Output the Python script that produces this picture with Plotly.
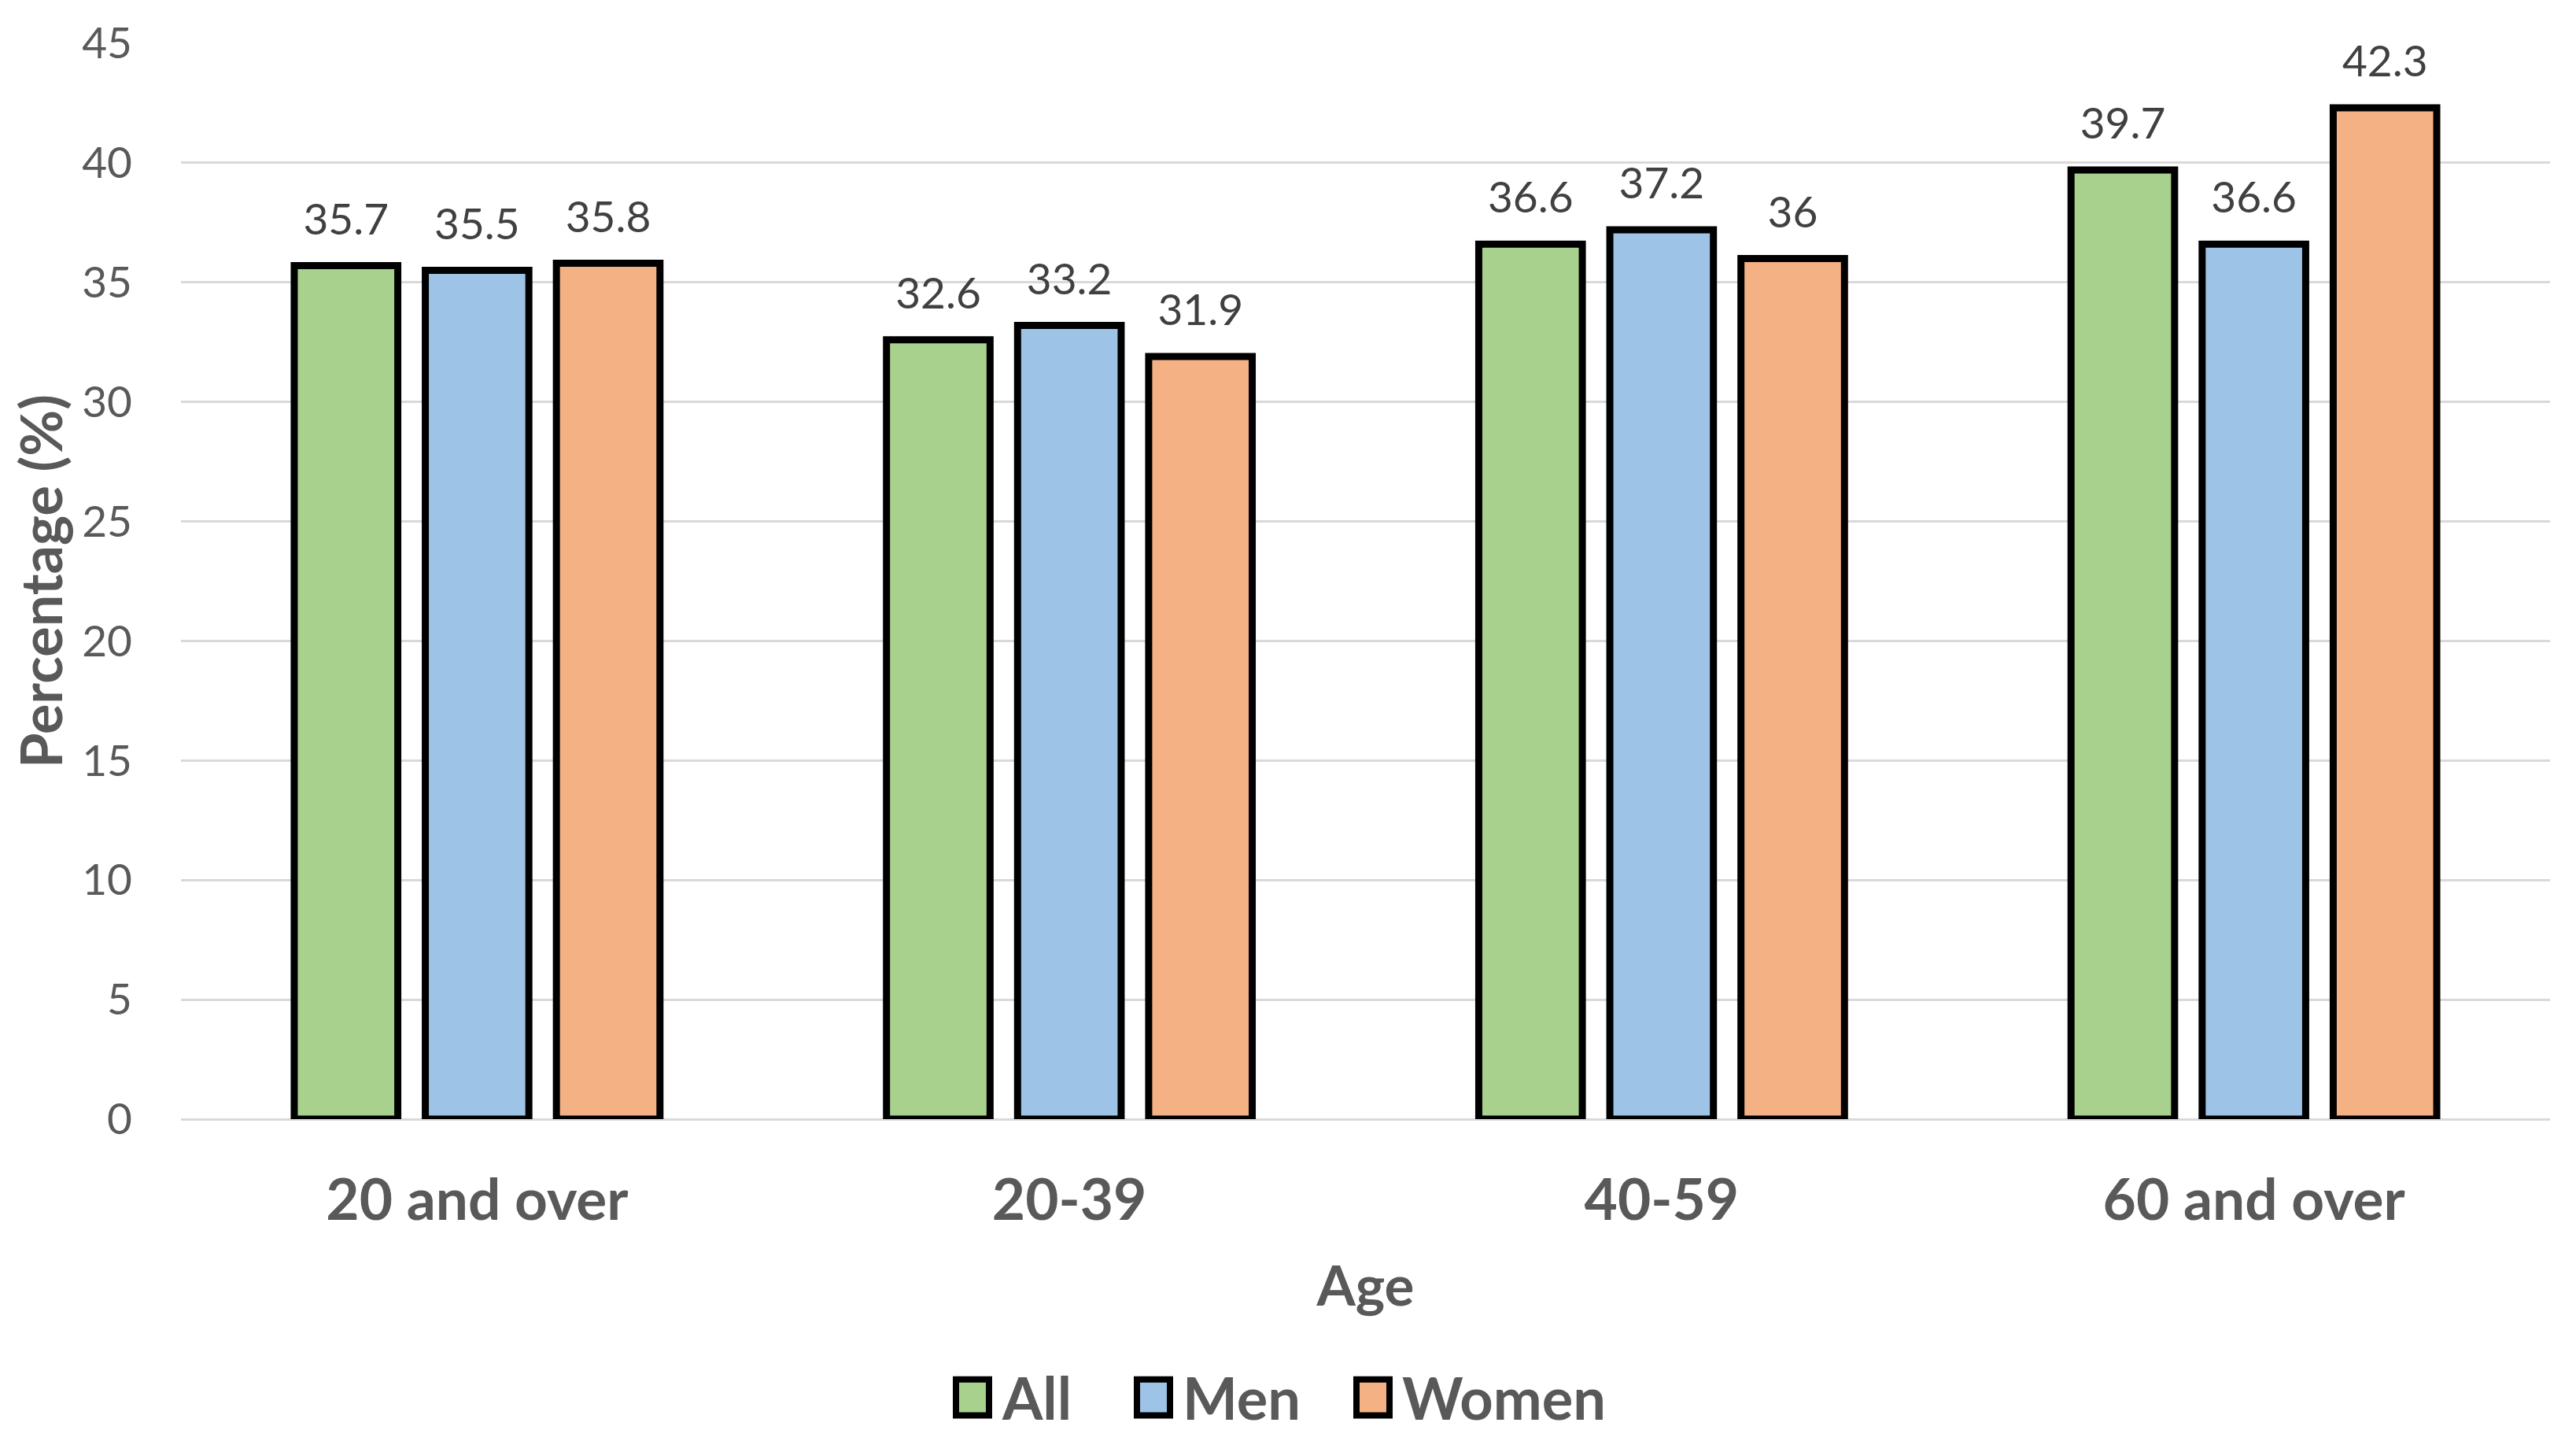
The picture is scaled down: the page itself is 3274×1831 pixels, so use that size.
import plotly.graph_objects as go

categories = ["20 and over", "20-39", "40-59", "60 and over"]
series_names = ["All", "Men", "Women"]
all_values = [35.7, 32.6, 36.6, 39.7]
men_values = [35.5, 33.2, 37.2, 36.6]
women_values = [35.8, 31.9, 36, 42.3]
y_ticks = [0, 5, 10, 15, 20, 25, 30, 35, 40, 45]

colors = ["#A9D18E", "#9DC3E6", "#F4B183"]
FONT = "Lato"

# page geometry (page body adds an 8px offset)
W, H = 3258, 1815
ML, MR, MT, MB = 222, 25, 38, 401
OFFX, OFFY = 8, 8
PX0, PX1 = OFFX + ML, OFFX + W - MR
PY0, PY1 = OFFY + MT, OFFY + H - MB


def paper_x(px):
    return (px - PX0) / (PX1 - PX0)


def paper_y(py):
    return (PY1 - py) / (PY1 - PY0)


fig = go.Figure()
series = [all_values, men_values, women_values]
for name, vals, col in zip(series_names, series, colors):
    fig.add_trace(go.Bar(
        x=categories, y=vals, name=name,
        marker=dict(color=col, line=dict(color="#000000", width=9)),
        showlegend=False,
    ))
for name, vals in zip(series_names, series):
    fig.add_trace(go.Scatter(
        x=categories, y=vals, name=name + " labels",
        mode="markers+text",
        marker=dict(size=40, color="rgba(0,0,0,0)"),
        text=[f"{v:g}" for v in vals],
        textposition="top center",
        textfont=dict(family=FONT, size=55, color="#404040"),
        cliponaxis=False, showlegend=False, hoverinfo="skip",
    ))

# custom legend (large swatches like the original)
legend_swatch_cx = [1236, 1466, 1745]
legend_cy = 1778
sw_w, sw_h = 42, 46
shapes = []
annotations = []
for name, col, cx in zip(series_names, colors, legend_swatch_cx):
    shapes.append(dict(
        type="rect", xref="paper", yref="paper",
        x0=paper_x(cx - sw_w / 2), x1=paper_x(cx + sw_w / 2),
        y0=paper_y(legend_cy + sw_h / 2), y1=paper_y(legend_cy - sw_h / 2),
        fillcolor=col, line=dict(color="#000000", width=8),
    ))
    annotations.append(dict(
        xref="paper", yref="paper", x=paper_x(cx + sw_w / 2 + 14), y=paper_y(legend_cy),
        xanchor="left", yanchor="middle", showarrow=False, text=name,
        font=dict(family=FONT, size=74, color="#595959", weight="bold"),
    ))

fig.update_layout(
    width=W, height=H,
    margin=dict(l=ML, r=MR, t=MT, b=MB),
    paper_bgcolor="white", plot_bgcolor="white",
    barmode="group", bargap=0.336, bargroupgap=0.21,
    scattermode="group", scattergap=0.336,
    font=dict(family=FONT, color="#595959"),
    showlegend=False,
    shapes=shapes, annotations=annotations,
)
fig.update_yaxes(
    range=[0, 45], tickvals=y_ticks, showgrid=True, gridcolor="#D9D9D9", gridwidth=3,
    zeroline=True, zerolinecolor="#D9D9D9", zerolinewidth=3, showline=False,
    tickfont=dict(family=FONT, size=55, color="#595959"), ticklabelstandoff=61,
    title=dict(text="Percentage (%)", font=dict(family=FONT, size=72, color="#595959", weight="bold"), standoff=13),
)
fig.update_xaxes(
    showline=False, ticks="",
    tickfont=dict(family=FONT, size=73, color="#595959", weight="bold"), ticklabelstandoff=54,
    title=dict(text="Age", font=dict(family=FONT, size=71, color="#595959", weight="bold"), standoff=44),
)

fig.write_html("out.html")
